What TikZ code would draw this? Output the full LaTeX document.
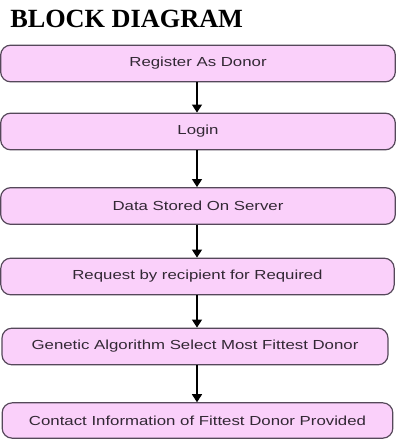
\documentclass[tikz,border=0pt]{standalone}
\usepackage{fontspec}
\setmainfont{Liberation Serif}
\newfontfamily\boxfont{Liberation Sans}
\usetikzlibrary{arrows.meta}
\definecolor{boxpink}{RGB}{250,208,250}
\definecolor{boxline}{RGB}{85,72,90}
\definecolor{boxtext}{RGB}{50,40,52}
\newcommand{\squash}[1]{\scalebox{1}[0.78]{#1}}
\begin{document}
\begin{tikzpicture}[x=0.75pt, y=-0.75pt,
stepbox/.style={draw=boxline, fill=boxpink, line width=0.9pt, rounded corners=7.5pt, minimum height=27.5pt, inner sep=0pt, text=boxtext, font=\boxfont\fontsize{12.6}{14}\selectfont},
flow/.style={line width=0.95pt, -{Triangle[width=7.5pt, length=6pt]}}]
\useasboundingbox (0,0) rectangle (396,439);
\node[anchor=base west, font=\bfseries\fontsize{19.7}{22}\selectfont, inner sep=0pt] (title) at (10,27) {BLOCK DIAGRAM};
\node[stepbox, minimum width=296pt] (register) at (198,63.5) {\squash{Register As Donor}};
\node[stepbox, minimum width=296pt] (login) at (198,131.5) {\squash{Login}};
\node[stepbox, minimum width=296pt] (server) at (198,206) {\squash{Data Stored On Server}};
\node[stepbox, minimum width=295pt] (request) at (197.5,276.5) {\squash{Request by recipient for Required}};
\node[stepbox, minimum width=289.5pt] (genetic) at (195,346.5) {\squash{Genetic Algorithm Select Most Fittest Donor}};
\node[stepbox, minimum width=293pt, minimum height=26.5pt] (contact) at (197.5,420.5) {\squash{Contact Information of Fittest Donor Provided}};
\draw[flow] (register.south -| 197,0) -- (login.north -| 197,0);
\draw[flow] (login.south -| 197,0) -- (server.north -| 197,0);
\draw[flow] (server.south -| 197,0) -- (request.north -| 197,0);
\draw[flow] (request.south -| 197,0) -- (genetic.north -| 197,0);
\draw[flow] (genetic.south -| 197,0) -- (contact.north -| 197,0);
\end{tikzpicture}
\end{document}
